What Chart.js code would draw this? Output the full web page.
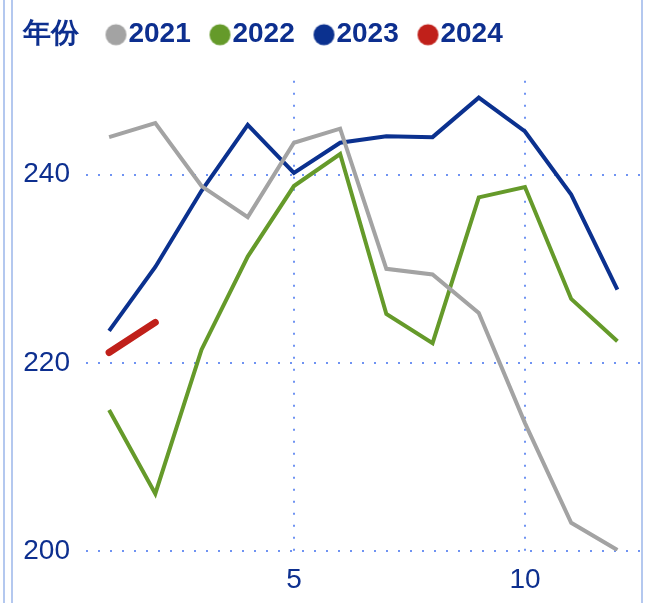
<!DOCTYPE html>
<html>
<head>
<meta charset="utf-8">
<script src="https://cdn.jsdelivr.net/npm/chart.js@4.4.1/dist/chart.umd.min.js"></script>
<style>
  body { margin: 0; background: #fff; }
  #wrap { position: relative; width: 652px; height: 603px; overflow: hidden; }
  .edge { position: absolute; top: 0; bottom: 0; width: 2px; background: #b4c8ef; }
  canvas { position: absolute; left: 0; top: 0; }
</style>
</head>
<body>
<div id="wrap">
  <canvas id="chart" width="652" height="603"></canvas>
  <div class="edge" style="left:3px"></div>
  <div class="edge" style="left:11px"></div>
  <div class="edge" style="left:641px"></div>
</div>
<script>
const legendTitle = '年份';
const months = [1, 2, 3, 4, 5, 6, 7, 8, 9, 10, 11, 12];
const years = ['2021', '2022', '2023', '2024'];
const values2021 = [244.0, 245.5, 238.8, 235.5, 243.4, 244.9, 230.0, 229.4, 225.3, 213.6, 203.0, 200.1];
const values2022 = [215.0, 206.1, 221.4, 231.3, 238.8, 242.2, 225.2, 222.1, 237.6, 238.7, 226.8, 222.3];
const values2023 = [223.4, 230.2, 238.3, 245.3, 240.2, 243.4, 244.1, 244.0, 248.2, 244.6, 237.9, 227.8];
const values2024 = [221.1, 224.3];
const xTicks = [5, 10];
const yTicks = [200, 220, 240];

const colors = ['#a3a3a3', '#659a2a', '#0b318f', '#c0201a'];
const widths = [4, 4, 4, 7];
const textColor = '#0d2f8f';
const gridColor = '#6f93f2';

const BOX_W = 8;

// dot drawn off-centre so it sits right next to the legend text
function dotImage(color){
    let c = document.createElement('canvas');
    c.width = BOX_W + 28;
    c.height = 24;
    if (color) {
        let ctx = c.getContext('2d');
        ctx.fillStyle = color;
        ctx.beginPath();
        ctx.arc(c.width / 2 + BOX_W / 2 + 1.5, 12, 10.5, 0, Math.PI * 2);
        ctx.fill();
    }
    return c;
}

function toPoints(vals){
    return vals.map((v, i) => ({x: months[i], y: v}));
}

const series = [values2021, values2022, values2023, values2024];
const datasets = years.map((year, i) => ({
    label: year,
    data: toPoints(series[i]),
    borderColor: colors[i],
    backgroundColor: colors[i],
    borderWidth: widths[i],
    borderCapStyle: i === 3 ? 'round' : 'butt',
    pointRadius: 0,
    tension: 0
}));

const dots = colors.map(c => dotImage(c));
const blank = dotImage(null);

new Chart(document.getElementById('chart'), {
    type: 'line',
    data: { datasets: datasets },
    options: {
        responsive: false,
        animation: false,
        devicePixelRatio: 1,
        layout: { padding: { left: -18.7, top: 1, right: 11.5, bottom: 0 } },
        plugins: {
            tooltip: { enabled: false },
            title: {
                display: true,
                text: '',
                weight: 500,
                font: { size: 10, lineHeight: 1 },
                padding: { top: 0, bottom: 12 }
            },
            legend: {
                display: true,
                position: 'top',
                align: 'start',
                weight: 3000,
                labels: {
                    usePointStyle: true,
                    pointStyleWidth: BOX_W,
                    padding: 19.7,
                    color: textColor,
                    font: { family: 'Liberation Sans, Arial, sans-serif', size: 28, weight: 'bold' },
                    generateLabels: function(chart){
                        let items = [{
                            text: legendTitle + ' ',
                            pointStyle: blank,
                            fillStyle: 'rgba(0,0,0,0)',
                            strokeStyle: 'rgba(0,0,0,0)',
                            lineWidth: 0,
                            fontColor: textColor,
                            hidden: false
                        }];
                        years.forEach((year, i) => {
                            items.push({
                                text: year,
                                pointStyle: dots[i],
                                fillStyle: colors[i],
                                strokeStyle: colors[i],
                                lineWidth: 0,
                                fontColor: textColor,
                                hidden: false,
                                datasetIndex: i
                            });
                        });
                        return items;
                    }
                }
            }
        },
        scales: {
            x: {
                type: 'linear',
                min: 0.5,
                max: 12.5,
                afterBuildTicks: scale => { scale.ticks = xTicks.map(v => ({value: v})); },
                afterFit: scale => { scale.height = 52; },
                border: { display: false, dash: [2, 10] },
                grid: { color: gridColor, lineWidth: 2, drawTicks: false },
                ticks: {
                    color: textColor,
                    padding: 12,
                    maxRotation: 0,
                    font: { family: 'Liberation Sans, Arial, sans-serif', size: 28 }
                }
            },
            y: {
                min: 200,
                max: 250,
                afterBuildTicks: scale => { scale.ticks = yTicks.map(v => ({value: v})); },
                afterFit: scale => { scale.width = 104.7; },
                border: { display: false, dash: [2, 10] },
                grid: { color: gridColor, lineWidth: 2, drawTicks: false },
                ticks: {
                    color: textColor,
                    padding: 16,
                    font: { family: 'Liberation Sans, Arial, sans-serif', size: 28 }
                }
            }
        }
    }
});
</script>
</body>
</html>
